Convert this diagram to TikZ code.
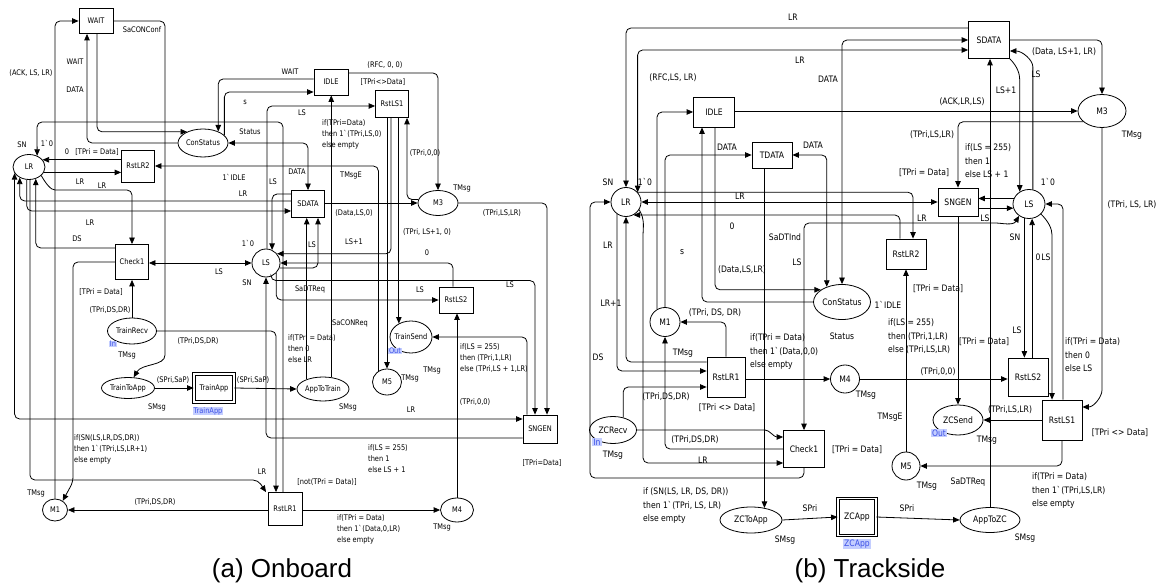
\documentclass[tikz,border=0pt]{standalone}
\usepackage{fontspec}
\setmainfont{Liberation Sans}
\newfontfamily\lblfont[FakeStretch=0.86]{DejaVu Sans}
\usetikzlibrary{arrows.meta,shapes.geometric}
\definecolor{tagfill}{RGB}{196,206,255}
\definecolor{tagtext}{RGB}{60,80,230}
\begin{document}
\begin{tikzpicture}[x=1pt,y=-1pt,
  pl/.style={ellipse,draw,line width=0.8pt,inner sep=0pt},
  tr/.style={rectangle,draw,line width=0.8pt,inner sep=0pt},
  cn/.style={line width=0.8pt,rounded corners=5pt,-{Triangle[length=6.5pt,width=5.5pt]}},
  cnb/.style={line width=0.8pt,rounded corners=5pt,{Triangle[length=6.5pt,width=5.5pt]}-{Triangle[length=6.5pt,width=5.5pt]}},
  lab/.style={inner sep=0pt},
  ml/.style={inner sep=0pt,align=left,anchor=north west},
  tag/.style={fill=tagfill,text=tagtext,inner xsep=1pt,inner ysep=0.5pt},
  fa/.style={font=\lblfont\fontsize{7.7}{11}\selectfont},
  fb/.style={font=\lblfont\fontsize{8.9}{13.5}\selectfont},
  captxt/.style={font=\fontsize{26}{30}\selectfont}
]
\useasboundingbox (0,0) rectangle (1159,585);

% ================= (a) Onboard =================
\begin{scope}[every node/.append style={fa}]
\node[tr,minimum width=34pt,minimum height=25pt] (WAIT) at (96,21) {WAIT};
\node[tr,minimum width=34pt,minimum height=26pt] (IDLEa) at (331,82) {IDLE};
\node[tr,minimum width=33pt,minimum height=27pt] (RstLS1a) at (392,104) {RstLS1};
\node[pl,minimum width=50pt,minimum height=28pt] (ConStatusa) at (203,143) {ConStatus};
\node[pl,minimum width=32pt,minimum height=25pt] (LRa) at (29,167) {LR};
\node[tr,minimum width=33pt,minimum height=32pt] (RstLR2a) at (138,166) {RstLR2};
\node[tr,minimum width=33pt,minimum height=27pt] (SDATAa) at (308,204) {SDATA};
\node[pl,minimum width=40pt,minimum height=25pt] (M3a) at (438,203) {M3};
\node[tr,minimum width=33pt,minimum height=35pt] (Check1a) at (132,262) {Check1};
\node[pl,minimum width=28pt,minimum height=28pt] (LSa) at (266,263) {LS};
\node[tr,minimum width=34pt,minimum height=26pt] (RstLS2a) at (456,300) {RstLS2};
\node[pl,inner xsep=-2pt,minimum width=49pt,minimum height=26pt] (TrainRecv) at (132,331) {TrainRecv};
\node[pl,inner xsep=-4pt,minimum width=42pt,minimum height=32pt] (TrainSend) at (411,337) {TrainSend};
\node[pl,inner xsep=-2pt,minimum width=53pt,minimum height=21pt] (TrainToApp) at (128,388) {TrainToApp};
\node[tr,double,double distance=1.5pt,minimum width=40pt,minimum height=28pt] (TrainApp) at (214,388) {TrainApp};
\node[pl,inner xsep=-2pt,minimum width=52pt,minimum height=24pt] (AppToTrain) at (323,389) {AppToTrain};
\node[pl,minimum width=29pt,minimum height=26pt] (M5a) at (387,382) {M5};
\node[tr,minimum width=34pt,minimum height=28pt] (SNGENa) at (540,429) {SNGEN};
\node[pl,minimum width=25pt,minimum height=22pt] (M1a) at (55,510) {M1};
\node[tr,minimum width=34pt,minimum height=33pt] (RstLR1a) at (285,509) {RstLR1};
\node[pl,minimum width=33pt,minimum height=24pt] (M4a) at (457,510) {M4};

\node[tag] (tagIna) at (113,344) {In};
\node[tag] (tagOuta) at (395,351) {Out};
\node[tag] (tagTrainApp) at (208,411) {TrainApp};

% connectors
\draw[cn] (M1a.north) |- (WAIT.west);
\draw[cn] (WAIT.east) -| (165,350) to[out=-90,in=60] (TrainToApp.62);
\draw[cn] (WAIT.south -| 97,0) |- (ConStatusa.145);
\draw[cn] (ConStatusa.west) -| (WAIT.south -| 87,0);
\draw[cn] (IDLEa.170) -| (ConStatusa.37);
\draw[cn] (ConStatusa.20) |- (IDLEa.west |- 0,92);
\draw[cnb] (ConStatusa.east) -| (SDATAa.north);
\draw[cn] (RstLR2a.west |- LRa.28) -- (LRa.28);
\draw[cn] (LRa.-20) -- (RstLR2a.west |- LRa.-20);
\draw[cn] (LRa.-35) to[out=-60,in=180] (60,190) -| (Check1a.north);
\draw[cn] (Check1a.west |- 0,248) -| (LRa.-60);
\draw[cnb] (LRa.203) |- (SNGENa.west |- 0,419);
\draw[cn] (SDATAa.west |- 0,201) -| (LRa.229);
\draw[cn] (LRa.-100) |- (SDATAa.west |- 0,211);
\draw[cn] (LRa.-86) |- (258,480) -- (RstLR1a.north -| 266,0);
\draw[cn] (RstLR1a.north -| 283,0) |- (37,122) -- (LRa.54);
\draw[cn] (LSa.86) |- (RstLS1a.west |- 0,106);
\draw[cn] (SDATAa.west |- 0,194) -| (LSa.65);
\draw[cn] (AppToTrain.55) -- (AppToTrain.55 |- IDLEa.south);
\draw[cn] (AppToTrain.149) -- (AppToTrain.149 |- SDATAa.south);
\draw[cn] (LSa.-20) -| (SDATAa.south -| 318,0);
\draw[cn] (RstLS1a.south -| 391,0) |- (LSa.40);
\draw[cn] (RstLS2a.north -| 453,0) |- (LSa.0);
\draw[cn] (LSa.-45) |- (RstLS2a.west);
\draw[cn] (LSa.-70) -- ++(0,4) -| (SNGENa.north -| 535,0);
\draw[cn] (SNGENa.west |- 0,438) -| (LSa.south);
\draw[cnb] (Check1a.east |- LSa.west) -- (LSa.west);
\draw[cn] (RstLS1a.south -| M5a.north) -- (M5a.north);
\draw[cn] (RstLS1a.south -| TrainSend.132) -- (TrainSend.132);
\draw[cn] (M5a.128) |- (RstLR2a.east);
\draw[cn] (IDLEa.east |- 0,73) -| (M3a.north);
\draw[cn] (M3a.170) -| (RstLS1a.south -| 407,0);
\draw[cn] (SDATAa.east |- M3a.west) -- (M3a.west);
\draw[cn] (M3a.east) -| (SNGENa.north -| 547,0);
\draw[cn] (SNGENa.north -| 527,0) |- (TrainSend.east);
\draw[cn] (M4a.north) -- (M4a.north |- RstLS2a.south);
\draw[cn] (RstLR1a.east |- M4a.west) -- (M4a.west);
\draw[cn] (RstLR1a.west |- M1a.east) -- (M1a.east);
\draw[cn] (Check1a.west) -| (73,482) -- (M1a.50);
\draw[cn] (TrainRecv.north) -- (Check1a.south);
\draw[cn] (TrainRecv.east) -| (RstLR1a.north -| 276,0);
\draw[cn] (TrainToApp.east) -- (TrainApp.west);
\draw[cn] (TrainApp.east) -- (AppToTrain.west);

% labels
\node[lab] at (31,73) {(ACK, LS, LR)};
\node[lab] at (142,30) {SaCONConf};
\node[lab] at (75,62) {WAIT};
\node[lab] at (75,90) {DATA};
\node[lab] at (290,72) {WAIT};
\node[lab] at (245,102) {s};
\node[lab] at (250,132) {Status};
\node[lab] at (385,65) {(RFC, 0, 0)};
\node[lab] at (383,82) {[TPri<>Data]};
\node[lab] at (302,113) {LS};
\node[ml] at (322,119) {if(TPri=Data)\\then 1\textasciigrave(TPri,LS,0)\\else empty};
\node[lab] at (425,153) {(TPri,0,0)};
\node[lab] at (462,188) {TMsg};
\node[lab] at (297,172) {DATA};
\node[lab] at (351,175) {TMsgE};
\node[lab] at (234,177) {1\textasciigrave IDLE};
\node[lab] at (22,145) {SN};
\node[lab] at (47,143) {1\textasciigrave 0};
\node[lab] at (67,152) {0};
\node[lab] at (97,152) {[TPri = Data]};
\node[lab] at (80,182) {LR};
\node[lab] at (102,186) {LR};
\node[lab] at (273,182) {LS};
\node[lab] at (243,194) {LR};
\node[lab] at (354,213) {(Data,LS,0)};
\node[lab] at (502,213) {(TPri,LS,LR)};
\node[lab] at (90,223) {LR};
\node[lab] at (427,232) {(TPri, LS+1, 0)};
\node[lab] at (77,239) {DS};
\node[lab] at (248,243) {1\textasciigrave 0};
\node[lab] at (354,242) {LS+1};
\node[lab] at (312,245) {LS};
\node[lab] at (427,253) {0};
\node[lab] at (219,272) {LS};
\node[lab] at (247,283) {SN};
\node[lab] at (510,285) {LS};
\node[lab] at (310,289) {SaDTReq};
\node[lab] at (420,290) {LS};
\node[lab] at (101,292) {[TPri = Data]};
\node[lab] at (110,310) {(TPri,DS,DR)};
\node[lab] at (350,323) {SaCONReq};
\node[lab] at (198,341) {(TPri,DS,DR)};
\node[ml] at (288,334) {if(TPri = Data)\\then 0\\else LR};
\node[ml] at (460,343) {if(LS = 255)\\then (TPri,1,LR)\\else (TPri,LS + 1,LR)};
\node[lab] at (127,355) {TMsg};
\node[lab] at (410,378) {TMsg};
\node[lab] at (432,370) {TMsg};
\node[lab] at (173,380) {(SPri,SaP)};
\node[lab] at (253,380) {(SPri,SaP)};
\node[lab] at (157,407) {SMsg};
\node[lab] at (348,407) {SMsg};
\node[lab] at (411,410) {LR};
\node[lab] at (475,402) {(TPri,0,0)};
\node[ml] at (74,434) {if(SN(LS,LR,DS,DR))\\then 1\textasciigrave(TPri,LS,LR+1)\\else empty};
\node[ml] at (368,444) {if(LS = 255)\\then 1\\else LS + 1};
\node[lab] at (542,463) {[TPri=Data]};
\node[lab] at (262,472) {LR};
\node[lab] at (327,482) {[not(TPri = Data)]};
\node[lab] at (36,493) {TMsg};
\node[lab] at (155,502) {(TPri,DS,DR)};
\node[ml] at (337,514) {if(TPri = Data)\\then 1\textasciigrave(Data,0,LR)\\else empty};
\node[lab] at (442,527) {TMsg};
\end{scope}

% ================= (b) Trackside =================
\begin{scope}[every node/.append style={fb}]
\node[tr,minimum width=41pt,minimum height=37pt] (SDATAb) at (989,40) {SDATA};
\node[tr,minimum width=41pt,minimum height=30pt] (IDLEb) at (714,112) {IDLE};
\node[tr,minimum width=40pt,minimum height=26pt] (TDATA) at (772,155) {TDATA};
\node[pl,minimum width=48pt,minimum height=33pt] (M3b) at (1102,111) {M3};
\node[pl,minimum width=30pt,minimum height=29pt] (LRb) at (626,202) {LR};
\node[tr,minimum width=40pt,minimum height=28pt] (SNGENb) at (958,202) {SNGEN};
\node[pl,minimum width=32pt,minimum height=29pt] (LSb) at (1029,204) {LS};
\node[tr,minimum width=40pt,minimum height=30pt] (RstLR2b) at (906,254) {RstLR2};
\node[pl,inner xsep=-2pt,minimum width=57pt,minimum height=35pt] (ConStatusb) at (842,302) {ConStatus};
\node[pl,minimum width=30pt,minimum height=29pt] (M1b) at (665,322) {M1};
\node[tr,minimum width=38pt,minimum height=40pt] (RstLR1b) at (726,377) {RstLR1};
\node[pl,minimum width=29pt,minimum height=28pt] (M4b) at (845,379) {M4};
\node[tr,minimum width=40pt,minimum height=38pt] (RstLS2b) at (1028,377) {RstLS2};
\node[pl,minimum width=50pt,minimum height=30pt] (ZCSend) at (958,420) {ZCSend};
\node[tr,minimum width=40pt,minimum height=40pt] (RstLS1b) at (1062,420) {RstLS1};
\node[pl,minimum width=47pt,minimum height=27pt] (ZCRecv) at (613,430) {ZCRecv};
\node[tr,minimum width=41pt,minimum height=37pt] (Check1b) at (804,449) {Check1};
\node[pl,minimum width=28pt,minimum height=28pt] (M5b) at (906,466) {M5};
\node[pl,minimum width=62pt,minimum height=26pt] (ZCToApp) at (751,520) {ZCToApp};
\node[tr,double,double distance=1.5pt,minimum width=38pt,minimum height=37pt] (ZCApp) at (857,517) {ZCApp};
\node[pl,minimum width=60pt,minimum height=25pt] (AppToZC) at (990,520) {AppToZC};

\node[tag] (tagInb) at (597,442) {In};
\node[tag] (tagOutb) at (939,433) {Out};
\node[tag] (tagZCApp) at (857,544) {ZCApp};

% connectors
\draw[cn] (SDATAb.west |- 0,28) -| (LRb.north);
\draw[cnb] (LRb.40) |- (SDATAb.west |- 0,50);
\draw[cnb] (ConStatusb.north) |- (SDATAb.west);
\draw[cn] (IDLEb.east |- M3b.west) -- (M3b.west);
\draw[cn] (SDATAb.east) -| (M3b.north);
\draw[cn] (SDATAb.south east) to[out=-45,in=90] (LSb.127 |- 0,85) -- (LSb.127);
\draw[cn] (LSb.75) -- (LSb.75 |- 0,72) to[out=90,in=0] (SDATAb.east |- 0,51);
\draw[cn] (AppToZC.north) -- (AppToZC.north |- SDATAb.south);
\draw[cn] (M3b.210) -| (SNGENb.north);
\draw[cn] (M3b.south) -- (1102,385) to[out=-90,in=0] (RstLS1b.east |- 0,407);
\draw[cn] (RstLS1b.west |- ZCSend.east) -- (ZCSend.east);
\draw[cn] (RstLS1b.south) |- (M5b.east);
\draw[cn] (M5b.north) -- (M5b.north |- RstLR2b.south);
\draw[cn] (SNGENb.south) -- (ZCSend.north);
\draw[cn] (ZCApp.east) -- (AppToZC.west);
\draw[cn] (ZCToApp.east) -- (ZCApp.west);
\draw[cn] (ZCToApp.42 |- TDATA.south) -- (ZCToApp.42);
\draw[cn] (ZCRecv.east) -- (760,430) to[out=0,in=180] (Check1b.west |- 0,437);
\draw[cn] (ZCRecv.51) |- (RstLR1b.west |- 0,387);
\draw[cn] (Check1b.west) -| (M1b.south);
\draw[cn] (LRb.-30) to[out=-60,in=90] (643,240) |- (Check1b.west |- 0,463);
\draw[cn] (Check1b.south) |- (590,478) |- (LRb.west);
\draw[cn] (LRb.233) |- (RstLR1b.west |- 0,371);
\draw[cn] (RstLR1b.west |- 0,362) -| (LRb.south);
\draw[cn] (RstLR1b.north) |- (M1b.east);
\draw[cn] (RstLR1b.east |- M4b.west) -- (M4b.west);
\draw[cn] (M4b.east) -- (RstLS2b.west |- M4b.east);
\draw[cn] (LSb.-108) -- (LSb.-108 |- RstLS2b.north);
\draw[cn] (LSb.-78 |- RstLS2b.north) -- (LSb.-78);
\draw[cn] (LSb.-40) to[out=-45,in=90] (1052,240) -- (RstLS1b.north -| 1052,0);
\draw[cn] (RstLS1b.north -| 1063,0) |- (LSb.east);
\draw[cn] (LSb.160) -- (SNGENb.east |- LSb.160);
\draw[cn] (SNGENb.east |- LSb.195) -- (LSb.195);
\draw[cnb] (LSb.230) to[out=-120,in=0] (990,223) -| (Check1b.north);
\draw[cnb] (LRb.east) -- (SNGENb.west);
\draw[cn] (LRb.40) -| (RstLR2b.north -| 913,0);
\draw[cn] (RstLR2b.north -| 900,0) |- (LRb.-60);
\draw[cn] (M1b.122) |- (IDLEb.west);
\draw[cn] (M1b.north) |- (TDATA.west);
\draw[cn] (ConStatusb.west) -| (IDLEb.south -| 702,0);
\draw[cn] (IDLEb.south -| 715,0) |- (ConStatusb.150);
\draw[cnb] (TDATA.east) -| (ConStatusb.135);

% labels
\node[lab] at (793,17) {LR};
\node[lab] at (800,60) {LR};
\node[lab] at (828,79) {DATA};
\node[lab] at (673,78) {(RFC,LS, LR)};
\node[lab] at (727,147) {DATA};
\node[lab] at (813,145) {DATA};
\node[lab] at (608,182) {SN};
\node[lab] at (645,182) {1\textasciigrave 0};
\node[lab] at (740,196) {LR};
\node[lab] at (732,226) {0};
\node[lab] at (608,245) {LR};
\node[lab] at (682,252) {s};
\node[lab] at (785,237) {SaDTInd};
\node[lab] at (797,262) {LS};
\node[lab] at (742,270) {(Data,LS,LR)};
\node[lab] at (611,303) {LR+1};
\node[lab] at (715,313) {(TPri, DS, DR)};
\node[lab] at (842,336) {Status};
\node[lab] at (888,305) {1\textasciigrave IDLE};
\node[lab] at (683,353) {TMsg};
\node[lab] at (598,357) {DS};
\node[ml] at (750,334) {if(TPri = Data)\\then 1\textasciigrave(Data,0,0)\\else empty};
\node[lab] at (666,397) {(TPri,DS,DR)};
\node[lab] at (727,408) {[TPri <> Data]};
\node[lab] at (695,440) {(TPri,DS,DR)};
\node[lab] at (857,450) {[TPri = Data]};
\node[lab] at (703,460) {LR};
\node[lab] at (613,455) {TMsg};
\node[ml] at (643,488) {if (SN(LS, LR, DS, DR))\\then 1\textasciigrave(TPri, LS, LR)\\else empty};
\node[lab] at (810,508) {SPri};
\node[lab] at (785,540) {SMsg};
\node[lab] at (907,508) {SPri};
\node[lab] at (1025,538) {SMsg};
\node[lab] at (968,482) {SaDTReq};
\node[lab] at (927,486) {TMsg};
\node[lab] at (890,417) {TMsgE};
\node[lab] at (938,289) {[TPri = Data]};
\node[ml] at (888,319) {if(LS = 255)\\then (TPri,1,LR)\\else (TPri,LS,LR)};
\node[lab] at (984,342) {[TPri = Data]};
\node[lab] at (938,372) {(TPri,0,0)};
\node[lab] at (866,395) {TMsg};
\node[lab] at (1010,410) {(TPri,LS,LR)};
\node[lab] at (987,440) {TMsg};
\node[lab] at (1120,433) {[TPri <> Data]};
\node[ml] at (1032,473) {if(TPri = Data)\\then 1\textasciigrave(TPri,LS,LR)\\else empty};
\node[ml] at (1065,338) {if(TPri = Data)\\then 0\\else LS};
\node[lab] at (1017,330) {LS};
\node[lab] at (1015,237) {SN};
\node[lab] at (1038,257) {0};
\node[lab] at (1046,257) {LS};
\node[lab] at (985,218) {LS};
\node[lab] at (1132,205) {(TPri, LS, LR)};
\node[lab] at (1048,182) {1\textasciigrave 0};
\node[lab] at (924,173) {[TPri = Data]};
\node[ml] at (965,144) {if(LS = 255)\\then 1\\else LS + 1};
\node[lab] at (932,135) {(TPri,LS,LR)};
\node[lab] at (1132,135) {TMsg};
\node[lab] at (962,102) {(ACK,LR,LS)};
\node[lab] at (1006,90) {LS+1};
\node[lab] at (1036,74) {LS};
\node[lab] at (1064,52) {(Data, LS+1, LR)};
\node[lab] at (922,218) {LR};
\end{scope}

% captions
\node[captxt] (capa) at (282,571) {(a) Onboard};
\node[captxt] (capb) at (870,571) {(b) Trackside};
\end{tikzpicture}
\end{document}
